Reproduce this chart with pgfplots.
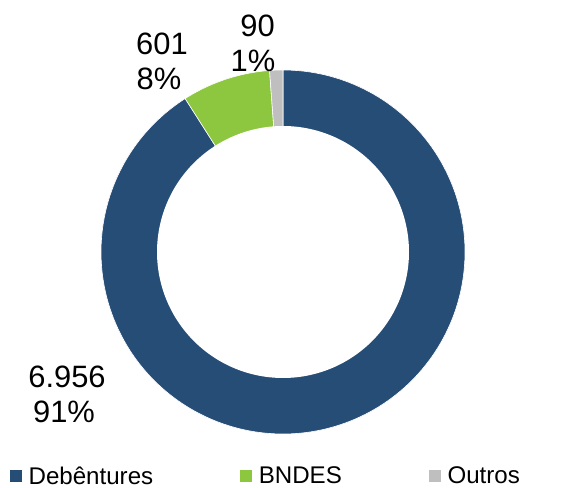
\documentclass[border=0pt]{standalone}
\usepackage{pgfplots}
\usepackage{pgfplotstable}
\usepackage{fontspec}
\setmainfont{Liberation Sans}
\pgfplotsset{compat=1.18}
\definecolor{debcol}{RGB}{38,77,118}
\definecolor{bndcol}{RGB}{141,198,63}
\definecolor{outcol}{RGB}{191,191,191}
\pgfplotstableread{
label value
Debentures 6956
BNDES 601
Outros 90
}\datatable
\pgfplotstablegetelem{0}{value}\of\datatable \let\va\pgfplotsretval
\pgfplotstablegetelem{1}{value}\of\datatable \let\vb\pgfplotsretval
\pgfplotstablegetelem{2}{value}\of\datatable \let\vc\pgfplotsretval
\pgfmathsetmacro\tot{\va+\vb+\vc}
\pgfmathsetmacro\fa{\va/\tot}
\pgfmathsetmacro\fb{\vb/\tot}
\pgfmathsetmacro\fc{\vc/\tot}
\pgfmathsetmacro\aA{90}
\pgfmathsetmacro\aB{90-360*\fa}
\pgfmathsetmacro\aC{\aB-360*\fb}
\pgfmathsetmacro\aD{\aC-360*\fc}
\begin{document}
\begin{tikzpicture}
\begin{axis}[
  x=1bp, y=1bp,
  xmin=-283, xmax=295, ymin=-236, ymax=252,
  hide axis, clip=false,
  legend columns=3,
  legend style={draw=none, fill=none, at={(axis cs:-274,-224)}, anchor=west,
    inner sep=0pt, outer sep=0pt,
    nodes={inner sep=0pt, font=\fontsize{24.2}{29}\selectfont},
    /tikz/every odd column/.append style={column sep=6bp},
    /tikz/every even column/.append style={column sep=86bp}},
  legend image code/.code={\fill[#1] (0bp,-6.5bp) rectangle (13bp,6.5bp);},
]
\addplot[fill=debcol, draw=white, line width=0.6bp, domain=\aB:\aA, samples=200, variable=\t]
  ({182*cos(t)},{182*sin(t)}) -- (axis cs:0,0) -- cycle;
\addplot[fill=bndcol, draw=white, line width=0.6bp, domain=\aC:\aB, samples=40, variable=\t]
  ({182*cos(t)},{182*sin(t)}) -- (axis cs:0,0) -- cycle;
\addplot[fill=outcol, draw=white, line width=0.6bp, domain=\aD:\aC, samples=10, variable=\t]
  ({182*cos(t)},{182*sin(t)}) -- (axis cs:0,0) -- cycle;
\addplot[fill=white, draw=none, domain=0:360, samples=200, variable=\t, forget plot]
  ({126*cos(t)},{126*sin(t)});
\legend{Debêntures, BNDES, Outros}
\begin{scope}[every node/.style={font=\fontsize{31}{37}\selectfont, inner sep=0pt, anchor=base}]
\node at (axis cs:-216,-136) {6.956};
\node at (axis cs:-219,-171) {91\%};
\node at (axis cs:-121,197) {601};
\node at (axis cs:-124,162) {8\%};
\node at (axis cs:-25.5,215) {90};
\node at (axis cs:-30,180) {1\%};
\end{scope}
\draw[draw=none] (axis cs:-283,-236) rectangle (axis cs:295,252);
\end{axis}
\end{tikzpicture}
\end{document}
